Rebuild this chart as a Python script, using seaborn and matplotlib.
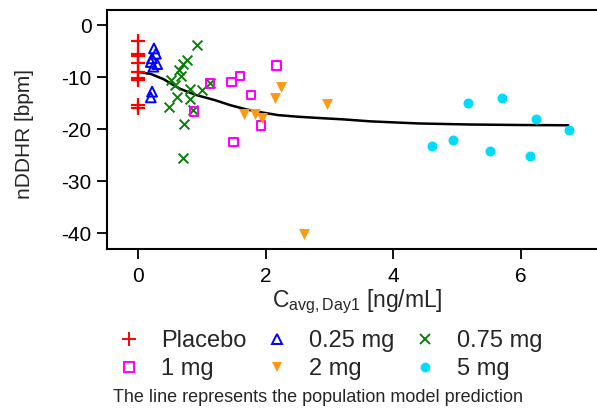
import matplotlib
matplotlib.use("Agg")
import matplotlib.pyplot as plt
from matplotlib.lines import Line2D
import seaborn as sns
import pandas as pd

# ---- data ----
placebo_x = [0, 0, 0, 0, 0, 0, 0, 0, 0]
placebo_y = [-3.0, -5.5, -6.0, -7.2, -9.0, -10.2, -10.5, -15.4, -16.0]

d025_x = [0.25, 0.28, 0.22, 0.20, 0.30, 0.24, 0.22, 0.20]
d025_y = [-4.5, -5.5, -6.4, -7.1, -7.5, -8.0, -12.8, -13.9]

d075_x = [0.92, 0.77, 0.71, 0.65, 0.68, 0.51, 0.58, 0.81, 1.00, 1.13,
          0.61, 0.81, 0.49, 0.86, 0.72, 0.71]
d075_y = [-3.8, -6.7, -7.4, -8.6, -9.8, -10.6, -11.5, -12.3, -12.5, -11.1,
          -13.9, -14.2, -15.8, -16.3, -19.0, -25.6]

d1_x = [1.13, 1.47, 1.60, 2.17, 1.77, 1.93, 1.50, 0.88]
d1_y = [-11.2, -10.9, -9.8, -7.8, -13.4, -19.3, -22.5, -16.6]

d2_x = [1.66, 1.83, 1.95, 2.15, 2.24, 2.97, 2.60]
d2_y = [-17.0, -17.0, -17.9, -14.0, -11.9, -15.1, -40.1]

d5_x = [4.61, 4.94, 5.17, 5.52, 5.71, 6.15, 6.24, 6.76]
d5_y = [-23.2, -22.1, -15.0, -24.1, -14.1, -25.1, -18.1, -20.2]

line_x = [0.0, 0.2, 0.4, 0.65, 0.9, 1.2, 1.45, 1.7, 1.95, 2.2, 2.5, 2.9,
          3.2, 3.65, 4.4, 5.2, 6.0, 6.75]
line_y = [-9.0, -9.4, -10.4, -12.2, -13.4, -14.4, -15.4, -16.2, -16.8, -17.3,
          -17.6, -17.9, -18.1, -18.5, -18.9, -19.1, -19.2, -19.25]

group_labels = ["Placebo", "0.25 mg", "0.75 mg", "1 mg", "2 mg", "5 mg"]
x_ticks = [0, 2, 4, 6]
y_ticks = [0, -10, -20, -30, -40]
caption = "The line represents the population model prediction"

# ---- style ----
sns.set_theme(style="white")
plt.rcParams["font.family"] = ["Liberation Sans", "DejaVu Sans"]
plt.rcParams["mathtext.fontset"] = "custom"
plt.rcParams["mathtext.rm"] = "Liberation Sans"
plt.rcParams["mathtext.it"] = "Liberation Sans"
plt.rcParams["axes.unicode_minus"] = False

fig = plt.figure(figsize=(5.97, 4.08), dpi=100)
ax = fig.add_axes([107 / 597, 1 - 249 / 408, 1 - 107 / 597, (249 - 10) / 408])

styles = [
    dict(marker="+", color="#ff0000", fc="#ff0000", s=100, lw=1.6),
    dict(marker="^", color="#0000ff", fc="none", s=50, lw=1.4),
    dict(marker="x", color="#0a7d0a", fc="#0a7d0a", s=50, lw=1.4),
    dict(marker="s", color="#ff00ff", fc="none", s=38, lw=1.5),
    dict(marker="v", color="#ff9912", fc="#ff9912", s=62, lw=0),
    dict(marker="o", color="#00dcff", fc="#00dcff", s=52, lw=0),
]
xs = [placebo_x, d025_x, d075_x, d1_x, d2_x, d5_x]
ys = [placebo_y, d025_y, d075_y, d1_y, d2_y, d5_y]

line_df = pd.DataFrame({"x": line_x, "y": line_y})
sns.lineplot(data=line_df, x="x", y="y", color="black", lw=1.8, ax=ax, zorder=1)

for gx, gy, st in zip(xs, ys, styles):
    df = pd.DataFrame({"x": gx, "y": gy})
    if st["marker"] in ("+", "x"):
        sns.scatterplot(data=df, x="x", y="y", marker=st["marker"], color=st["color"],
                        s=st["s"], linewidth=st["lw"], ax=ax, zorder=3)
    else:
        sns.scatterplot(data=df, x="x", y="y", marker=st["marker"], s=st["s"],
                        facecolor=st["fc"], edgecolor=st["color"],
                        linewidth=st["lw"], ax=ax, zorder=3)

ax.set_xlim(-0.487, 7.2)
ax.set_ylim(-43.0, 2.88)
ax.set_xticks(x_ticks)
ax.set_yticks(y_ticks)
ax.set_xlabel("")
ax.set_ylabel("")
ax.tick_params(axis="both", direction="out", length=7, width=1.3, labelsize=15,
               color="black", labelcolor="black", bottom=True, left=True)
ax.tick_params(axis="x", pad=6)
ax.tick_params(axis="y", pad=4)
for side in ["left", "bottom", "top"]:
    ax.spines[side].set_color("black")
    ax.spines[side].set_linewidth(1.5)
ax.spines["right"].set_visible(False)

fig.text(357 / 597, 1 - 302 / 408, r"$\mathregular{C_{avg,Day1}}$ [ng/mL]",
         ha="center", va="center", fontsize=16.5)
fig.text(25 / 597, 1 - 134 / 408, "nDDHR [bpm]", rotation=90,
         ha="center", va="center", fontsize=15)

handles = []
for st in styles:
    handles.append(Line2D([], [], linestyle="none", marker=st["marker"],
                          markersize=7 if st["marker"] not in ("+",) else 10,
                          markerfacecolor=st["fc"], markeredgecolor=st["color"],
                          markeredgewidth=1.4 if st["lw"] > 0 else 0))
order = [0, 3, 1, 4, 2, 5]
leg = fig.legend([handles[i] for i in order], [group_labels[i] for i in order],
                 ncol=3, loc="center", bbox_to_anchor=(331 / 597, 1 - 355 / 408),
                 frameon=False, fontsize=17, handlelength=0.8, handletextpad=0.95,
                 columnspacing=0.9, labelspacing=0.25, borderpad=0)

fig.text(318 / 597, 1 - 398 / 408, caption, ha="center", va="center", fontsize=13)

fig.savefig("out.png", dpi=100)
